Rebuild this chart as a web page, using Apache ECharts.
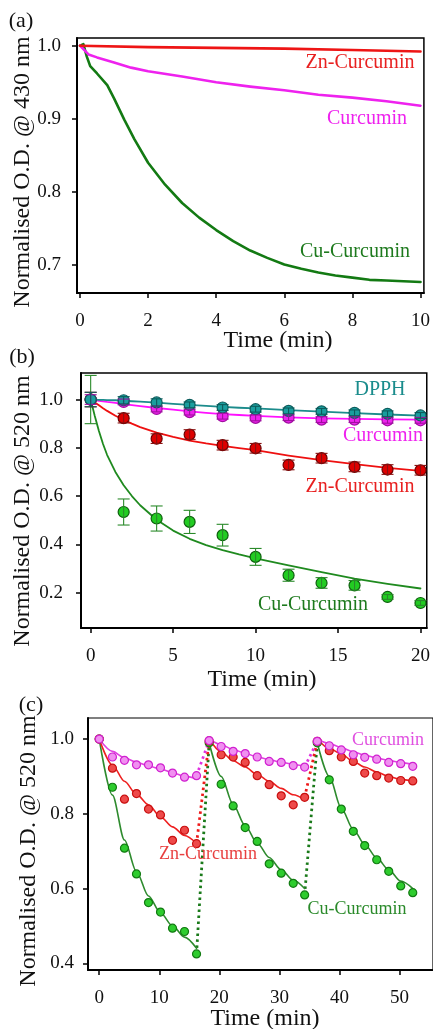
<!DOCTYPE html>
<html><head><meta charset="utf-8">
<script src="https://cdn.jsdelivr.net/npm/echarts@6/dist/echarts.min.js"></script>
<style>html,body{margin:0;padding:0;background:#fff}#c{width:433px;height:1029px}</style>
</head><body><div id="c"></div>
<script>
// ---------- Panel (a) ----------
const aXTicks = [0, 2, 4, 6, 8, 10];
const aYTicks = [0.7, 0.8, 0.9, 1.0];
const aZnTime = [0, 2, 4, 6, 8, 10];
const aZnOD = [1.0, 0.998, 0.997, 0.996, 0.994, 0.992];
const aCurTime = [0, 0.25, 0.5, 1, 1.5, 2, 3, 4, 5, 6, 7, 8, 9, 10];
const aCurOD = [1.0, 0.988, 0.984, 0.977, 0.970, 0.965, 0.958, 0.950, 0.944, 0.939, 0.933, 0.929, 0.924, 0.918];
const aCuTime = [0, 0.1, 0.2, 0.3, 0.5, 0.8, 1.0, 1.3, 1.6, 2, 2.5, 3, 3.5, 4, 4.5, 5, 5.5, 6, 6.5, 7, 7.5, 8, 8.5, 9, 9.5, 10];
const aCuOD = [1.0, 1.002, 0.985, 0.972, 0.962, 0.946, 0.928, 0.899, 0.872, 0.840, 0.810, 0.785, 0.765, 0.748, 0.733, 0.720, 0.710, 0.701, 0.695, 0.690, 0.686, 0.683, 0.680, 0.679, 0.678, 0.677];

// ---------- Panel (b) ----------
const bXTicks = [0, 5, 10, 15, 20];
const bYTicks = [0.2, 0.4, 0.6, 0.8, 1.0];
const bTime = [0, 2, 4, 6, 8, 10, 12, 14, 16, 18, 20];
const bDPPH = [1.0, 0.997, 0.988, 0.978, 0.967, 0.960, 0.953, 0.951, 0.945, 0.941, 0.934];
const bDPPHErr = [0.03, 0.015, 0.015, 0.012, 0.012, 0.012, 0.012, 0.012, 0.012, 0.012, 0.012];
const bCur = [1.0, 0.990, 0.961, 0.948, 0.931, 0.924, 0.925, 0.917, 0.917, 0.914, 0.914];
const bCurErr = [0.02, 0.012, 0.012, 0.012, 0.012, 0.012, 0.012, 0.012, 0.012, 0.012, 0.012];
const bZn = [1.0, 0.923, 0.838, 0.855, 0.811, 0.798, 0.729, 0.757, 0.721, 0.710, 0.707];
const bZnErr = [0.03, 0.02, 0.02, 0.02, 0.02, 0.02, 0.02, 0.02, 0.02, 0.02, 0.02];
const bCu = [1.0, 0.534, 0.507, 0.493, 0.438, 0.348, 0.272, 0.240, 0.230, 0.182, 0.157];
const bCuErr = [0.10, 0.054, 0.052, 0.048, 0.045, 0.035, 0.025, 0.022, 0.02, 0.01, 0.01];
const bFitTime = [0, 0.25, 0.5, 0.75, 1, 1.5, 2, 2.5, 3, 4, 5, 6, 7, 8, 9, 10, 12, 14, 16, 18, 20];
const bDPPHFit = [1.0, 0.9995, 0.999, 0.9985, 0.998, 0.997, 0.995, 0.993, 0.991, 0.987, 0.982, 0.978, 0.974, 0.970, 0.966, 0.963, 0.956, 0.950, 0.944, 0.938, 0.933];
const bCurFit = [1.0, 0.9975, 0.995, 0.9925, 0.990, 0.986, 0.981, 0.977, 0.973, 0.965, 0.958, 0.951, 0.945, 0.940, 0.936, 0.932, 0.926, 0.922, 0.920, 0.918, 0.917];
const bZnFit = [1.0, 0.988, 0.976, 0.964, 0.953, 0.933, 0.916, 0.900, 0.886, 0.863, 0.845, 0.830, 0.818, 0.808, 0.799, 0.790, 0.768, 0.749, 0.732, 0.717, 0.704];
const bCuFit = [1.0, 0.932, 0.870, 0.816, 0.770, 0.700, 0.645, 0.600, 0.562, 0.502, 0.457, 0.423, 0.397, 0.376, 0.358, 0.342, 0.313, 0.285, 0.258, 0.236, 0.217];

// ---------- Panel (c) ----------
const cXTicks = [0, 10, 20, 30, 40, 50];
const cYTicks = [0.4, 0.6, 0.8, 1.0];
const c1Time = [0, 2.2, 4.2, 6.2, 8.2, 10.2, 12.2, 14.2, 16.2];
const c2Time = [18.3, 20.3, 22.3, 24.3, 26.3, 28.3, 30.3, 32.3, 34.2];
const c3Time = [36.3, 38.3, 40.3, 42.3, 44.2, 46.2, 48.2, 50.2, 52.2];
const cCur1 = [1.0, 0.952, 0.943, 0.931, 0.931, 0.923, 0.909, 0.898, 0.902];
const cCur2 = [0.996, 0.980, 0.967, 0.961, 0.952, 0.940, 0.9375, 0.929, 0.925];
const cCur3 = [0.994, 0.982, 0.971, 0.958, 0.951, 0.946, 0.9375, 0.934, 0.927];
const cZn1 = [1.0, 0.922, 0.839, 0.854, 0.8125, 0.797, 0.729, 0.756, 0.720];
const cZn2 = [0.995, 0.958, 0.952, 0.9375, 0.902, 0.878, 0.848, 0.824, 0.844];
const cZn3 = [0.994, 0.969, 0.952, 0.940, 0.909, 0.902, 0.8955, 0.889, 0.888];
const cCu1 = [1.0, 0.871, 0.708, 0.639, 0.5625, 0.537, 0.494, 0.485, 0.425];
const cCu2 = [0.99, 0.879, 0.821, 0.763, 0.726, 0.666, 0.641, 0.614, 0.583];
const cCu3 = [0.99, 0.891, 0.8125, 0.753, 0.715, 0.677, 0.646, 0.607, 0.589];
const cCurFit1 = [1.0, 0.967, 0.950, 0.938, 0.928, 0.920, 0.910, 0.900, 0.894];
const cCurFit2 = [1.0, 0.985, 0.972, 0.962, 0.952, 0.945, 0.938, 0.932, 0.927];
const cCurFit3 = [1.0, 0.988, 0.977, 0.966, 0.957, 0.949, 0.943, 0.937, 0.932];
const cZnFit1 = [1.0, 0.93, 0.887, 0.852, 0.824, 0.792, 0.765, 0.742, 0.721];
const cZnFit2 = [1.0, 0.966, 0.942, 0.925, 0.905, 0.887, 0.868, 0.851, 0.837];
const cZnFit3 = [1.0, 0.975, 0.960, 0.940, 0.925, 0.912, 0.900, 0.892, 0.887];
const cCuFit1 = [1.0, 0.85, 0.73, 0.645, 0.58, 0.535, 0.50, 0.47, 0.44];
const cCuFit2 = [0.99, 0.90, 0.825, 0.768, 0.722, 0.683, 0.650, 0.622, 0.60];
const cCuFit3 = [0.99, 0.90, 0.815, 0.758, 0.718, 0.682, 0.650, 0.620, 0.60];

const FONT = '"Liberation Serif", "DejaVu Serif", serif';
const zip = (t, v) => t.map((x, i) => [x, v[i]]);

function xAx(gi, min, max, ticks, margin) {
  return {
    type: 'value', gridIndex: gi, min: min, max: max,
    axisLine: { show: true, onZero: false, lineStyle: { color: '#000', width: 2 } },
    axisTick: { show: true, inside: false, length: 5, customValues: ticks, lineStyle: { color: '#000', width: 1.5 } },
    axisLabel: { customValues: ticks, margin: margin, fontFamily: FONT, fontSize: 19, color: '#111' },
    splitLine: { show: false }
  };
}
function yAx(gi, min, max, ticks, margin) {
  return {
    type: 'value', gridIndex: gi, min: min, max: max,
    axisLine: { show: true, onZero: false, lineStyle: { color: '#000', width: 2 } },
    axisTick: { show: true, inside: false, length: 5, customValues: ticks, lineStyle: { color: '#000', width: 1.5 } },
    axisLabel: { customValues: ticks, margin: margin, fontFamily: FONT, fontSize: 19, color: '#111',
      formatter: v => v.toFixed(1) },
    splitLine: { show: false }
  };
}
function line(gi, data, color, width, extra) {
  return Object.assign({
    type: 'line', xAxisIndex: gi, yAxisIndex: gi, data: data, showSymbol: false, symbol: 'none',
    smooth: false, lineStyle: { color: color, width: width, join: 'round', cap: 'round' }, silent: true, animation: false
  }, extra || {});
}
function pts(gi, data, fill, border, size, z) {
  return {
    type: 'scatter', xAxisIndex: gi, yAxisIndex: gi, data: data, symbol: 'circle', symbolSize: size,
    itemStyle: { color: fill, borderColor: border, borderWidth: 1.2, opacity: 1 }, z: z || 3,
    silent: true, animation: false
  };
}
function err(gi, times, vals, errs, color, z) {
  return {
    type: 'custom', xAxisIndex: gi, yAxisIndex: gi, z: z || 4, silent: true, animation: false,
    data: times.map((t, i) => [t, vals[i] - errs[i], vals[i] + errs[i]]),
    encode: { x: 0, y: [1, 2] },
    renderItem: function (params, api) {
      const x = api.value(0);
      const lo = api.coord([x, api.value(1)]);
      const hi = api.coord([x, api.value(2)]);
      const w = 6;
      const st = { stroke: color, lineWidth: 1.1 };
      return { type: 'group', children: [
        { type: 'line', shape: { x1: lo[0], y1: lo[1], x2: hi[0], y2: hi[1] }, style: st },
        { type: 'line', shape: { x1: lo[0] - w, y1: lo[1], x2: lo[0] + w, y2: lo[1] }, style: st },
        { type: 'line', shape: { x1: hi[0] - w, y1: hi[1], x2: hi[0] + w, y2: hi[1] }, style: st }
      ] };
    }
  };
}
function txt(x, y, s, size, color, rot) {
  const o = { type: 'text', x: x, y: y, z: 100, silent: true,
    style: { text: s, font: size + 'px ' + FONT, fill: color, align: 'center', verticalAlign: 'middle' } };
  if (rot) o.rotation = rot;
  return o;
}

const series = [];
// (a)
series.push(line(0, zip(aCuTime, aCuOD), '#137a13', 2.6));
series.push(line(0, zip(aCurTime, aCurOD), '#ee22ee', 2.6));
series.push(line(0, zip(aZnTime, aZnOD), '#ee1515', 2.6));
// (b)
series.push(line(1, zip(bFitTime, bCuFit), '#1f8a1f', 1.8));
series.push(line(1, zip(bFitTime, bZnFit), '#ee1010', 1.8));
series.push(line(1, zip(bFitTime, bCurFit), '#ff10ff', 1.8));
series.push(line(1, zip(bFitTime, bDPPHFit), '#1c8c8c', 1.8));
series.push(pts(1, zip(bTime, bCu), '#22cc22', '#0d5f0d', 11, 3));
series.push(err(1, bTime, bCu, bCuErr, '#2a8a2a', 4));
series.push(pts(1, zip(bTime, bZn), '#dd0000', '#6a0000', 11, 3));
series.push(err(1, bTime, bZn, bZnErr, '#8a1010', 4));
series.push(pts(1, zip(bTime, bCur), '#ee22ee', '#a010a0', 11, 5));
series.push(err(1, bTime, bCur, bCurErr, '#a010a0', 6));
series.push(pts(1, zip(bTime, bDPPH), '#1a9e9e', '#0c5c5c', 11, 5));
series.push(err(1, bTime, bDPPH, bDPPHErr, '#0c5c5c', 6));
// (c)
const cDot = (a, b, color) => line(2, [a, b], color, 2.8, { lineStyle: { color: color, width: 2.8, type: [2.5, 3.5] } });
const cTimes = [c1Time, c2Time, c3Time];
const cCu = [cCu1, cCu2, cCu3], cZn = [cZn1, cZn2, cZn3], cCur = [cCur1, cCur2, cCur3];
const cCuFit = [cCuFit1, cCuFit2, cCuFit3], cZnFit = [cZnFit1, cZnFit2, cZnFit3], cCurFit = [cCurFit1, cCurFit2, cCurFit3];
for (let k = 0; k < 2; k++) {
  const tEnd = cTimes[k][8], tNext = cTimes[k + 1][0];
  series.push(cDot([tEnd, cCu[k][8]], [tNext, cCu[k + 1][0]], '#1a7a1a'));
  series.push(cDot([tEnd, cZn[k][8]], [tNext, cZn[k + 1][0]], '#ee1a1a'));
  series.push(cDot([tEnd, cCur[k][8]], [tNext, cCur[k + 1][0]], '#e030e0'));
}
for (let k = 0; k < 3; k++) {
  series.push(line(2, zip(cTimes[k], cCuFit[k]), '#2e8b2e', 1.6, { smooth: 0.3, smoothMonotone: 'x' }));
  series.push(pts(2, zip(cTimes[k], cCu[k]), '#2ecc2e', '#127a12', 8, 3));
}
for (let k = 0; k < 3; k++) {
  series.push(line(2, zip(cTimes[k], cZnFit[k]), '#ee2020', 1.6, { smooth: 0.3, smoothMonotone: 'x' }));
  series.push(pts(2, zip(cTimes[k], cZn[k]), '#ee4a4a', '#c81010', 8, 4));
}
for (let k = 0; k < 3; k++) {
  series.push(line(2, zip(cTimes[k], cCurFit[k]), '#e040e0', 1.6, { smooth: 0.3, smoothMonotone: 'x' }));
  series.push(pts(2, zip(cTimes[k], cCur[k]), '#f090f0', '#d020d0', 8, 5));
}

const chart = echarts.init(document.getElementById('c'), null, { renderer: 'canvas' });
chart.setOption({
  animation: false,
  backgroundColor: '#fff',
  grid: [
    { left: 77, top: 38, width: 348, height: 255, show: true, borderColor: '#000', borderWidth: 1.5, containLabel: false },
    { left: 81, top: 373, width: 347, height: 255, show: true, borderColor: '#000', borderWidth: 1.5, containLabel: false },
    { left: 88, top: 718, width: 360, height: 252, show: true, borderColor: '#000', borderWidth: 1.2, containLabel: false }
  ],
  xAxis: [
    xAx(0, -0.088, 10.1, aXTicks, 19),
    xAx(1, -0.586, 20.38, bXTicks, 19),
    xAx(2, -1.87, 55.57, cXTicks, 19)
  ],
  yAxis: [
    yAx(0, 0.662, 1.0105, aYTicks, 16),
    yAx(1, 0.0533, 1.110, bYTicks, 18),
    yAx(2, 0.382, 1.0563, cYTicks, 14)
  ],
  series: series,
  graphic: [
    txt(21, 21, '(a)', 22, '#111'),
    txt(22, 357, '(b)', 22, '#111'),
    txt(31, 705, '(c)', 22, '#111'),
    txt(23, 172, 'Normalised O.D. @ 430 nm', 24, '#111', Math.PI / 2),
    txt(23, 511, 'Normalised O.D. @ 520 nm', 24, '#111', Math.PI / 2),
    txt(29, 851, 'Normalised O.D. @ 520 nm', 24, '#111', Math.PI / 2),
    txt(278, 341, 'Time (min)', 24, '#111'),
    txt(262, 680, 'Time (min)', 24, '#111'),
    txt(265, 1019, 'Time (min)', 24, '#111'),
    txt(360, 63, 'Zn-Curcumin', 20, '#e82020'),
    txt(367, 119, 'Curcumin', 20, '#ee22ee'),
    txt(355, 252, 'Cu-Curcumin', 20, '#1e7a1e'),
    txt(380, 390, 'DPPH', 20, '#1a8c8c'),
    txt(383, 436, 'Curcumin', 20, '#ee22ee'),
    txt(360, 487, 'Zn-Curcumin', 20, '#e82020'),
    txt(313, 605, 'Cu-Curcumin', 20, '#1e7a1e'),
    txt(388, 740, 'Curcumin', 18, '#e050e0'),
    txt(208, 854, 'Zn-Curcumin', 18, '#e84040'),
    txt(357, 909, 'Cu-Curcumin', 18, '#2a8a2a')
  ]
});
</script>
</body></html>
